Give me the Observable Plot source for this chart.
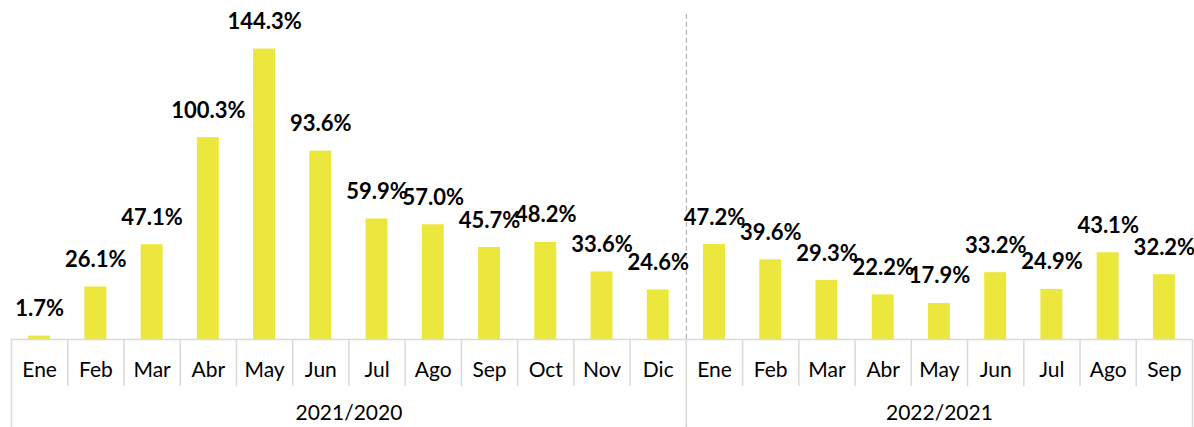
<!DOCTYPE html>
<html>
<head>
<meta charset="utf-8">
<script src="https://cdn.jsdelivr.net/npm/d3@7"></script>
<script src="https://cdn.jsdelivr.net/npm/@observablehq/plot@0.6"></script>
<style>
  html, body { margin: 0; padding: 0; background: #fff; }
  #chart svg { display: block; }
</style>
</head>
<body>
<div id="chart"></div>
<script>
const months1 = ["Ene","Feb","Mar","Abr","May","Jun","Jul","Ago","Sep","Oct","Nov","Dic"];
const values1 = [1.7, 26.1, 47.1, 100.3, 144.3, 93.6, 59.9, 57.0, 45.7, 48.2, 33.6, 24.6];
const months2 = ["Ene","Feb","Mar","Abr","May","Jun","Jul","Ago","Sep"];
const values2 = [47.2, 39.6, 29.3, 22.2, 17.9, 33.2, 24.9, 43.1, 32.2];
const periods = ["2021/2020", "2022/2021"];

const data = [
  ...months1.map((m, i) => ({ i, month: m, value: values1[i], period: periods[0] })),
  ...months2.map((m, j) => ({ i: months1.length + j, month: m, value: values2[j], period: periods[1] }))
];
const n = data.length;
const groups = [
  { start: 0, end: months1.length, label: periods[0] },
  { start: months1.length, end: n, label: periods[1] }
];
const groupEdges = [0, months1.length, n];
const innerEdges = d3.range(1, n).filter(k => !groupEdges.includes(k));

const font = "Lato, 'Open Sans', sans-serif";
const axisGrey = "#d9d9d9";

const chart = Plot.plot({
  width: 1194,
  height: 427,
  marginLeft: 11,
  marginRight: 2,
  marginTop: 0,
  marginBottom: 0,
  style: { fontFamily: font, background: "#fff" },
  x: { domain: [0, n], axis: null },
  y: { domain: [0, 160], range: [339, 17], axis: null },
  marks: [
    // dashed separator between periods
    Plot.ruleX([months1.length], { y1: -43.7, y2: 162, stroke: "#a6a6a6", strokeWidth: 1, strokeDasharray: "5,3" }),
    Plot.rectY(data, { x1: d => d.i + 0.305, x2: d => d.i + 0.695, y: "value", fill: "#ece73c" }),
    // baseline
    Plot.ruleY([0], { stroke: axisGrey, strokeWidth: 1.5 }),
    // month separators
    Plot.ruleX(innerEdges, { y1: 0, y2: -23.4, stroke: axisGrey, strokeWidth: 1.5 }),
    // period separators
    Plot.ruleX(groupEdges, { y1: 0, y2: -43.7, stroke: axisGrey, strokeWidth: 1.5 }),
    // value labels
    Plot.text(data, {
      x: d => d.i + 0.5, y: "value", text: d => d.value.toFixed(1) + "%",
      lineAnchor: "bottom", dy: -20, fontSize: 22, fontWeight: "bold", fill: "#000"
    }),
    // month labels
    Plot.text(data, {
      x: d => d.i + 0.5, y: 0, text: "month",
      lineAnchor: "middle", dy: 31, fontSize: 21, fill: "#000"
    }),
    // period labels
    Plot.text(groups, {
      x: d => (d.start + d.end) / 2, y: 0, text: "label",
      lineAnchor: "middle", dy: 74, fontSize: 21, fill: "#000"
    })
  ]
});
document.getElementById("chart").appendChild(chart);
</script>
</body>
</html>
